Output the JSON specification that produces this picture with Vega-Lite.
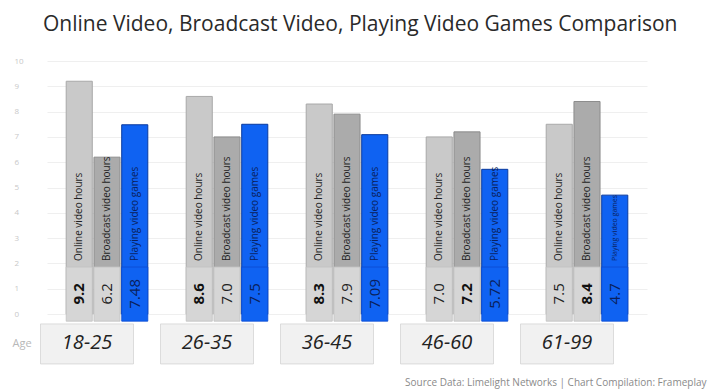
{
  "$schema": "https://vega.github.io/schema/vega-lite/v6.json",
  "width": 635,
  "height": 329,
  "autosize": "none",
  "padding": {"left": 40, "top": 61, "right": 33, "bottom": 2},
  "background": "white",
  "config": {
    "view": {"stroke": null},
    "font": "Open Sans",
    "axisY": {
      "ticks": false,
      "domain": false,
      "grid": true,
      "gridColor": "#efefef",
      "labelColor": "#c8c8c8",
      "labelFontSize": 8,
      "labelAlign": "left",
      "labelPadding": 26,
      "titleAngle": 0,
      "titleX": -28,
      "titleY": 282,
      "titleAlign": "left",
      "titleBaseline": "middle",
      "titleFontSize": 11,
      "titleFontWeight": "normal",
      "titleColor": "#b8b8b8"
    }
  },
  "title": {
    "text": "Online Video, Broadcast Video, Playing Video Games Comparison",
    "anchor": "start",
    "dx": 31,
    "offset": 22,
    "fontSize": 21,
    "fontWeight": "normal",
    "font": "Open Sans",
    "color": "#2a2a2a"
  },
  "data": {
    "values": [
      {"age": "18-25", "series": "Online video hours", "value": 9.2, "label": "9.2"},
      {"age": "18-25", "series": "Broadcast video hours", "value": 6.2, "label": "6.2"},
      {"age": "18-25", "series": "Playing video games", "value": 7.48, "label": "7.48"},
      {"age": "26-35", "series": "Online video hours", "value": 8.6, "label": "8.6"},
      {"age": "26-35", "series": "Broadcast video hours", "value": 7.0, "label": "7.0"},
      {"age": "26-35", "series": "Playing video games", "value": 7.5, "label": "7.5"},
      {"age": "36-45", "series": "Online video hours", "value": 8.3, "label": "8.3"},
      {"age": "36-45", "series": "Broadcast video hours", "value": 7.9, "label": "7.9"},
      {"age": "36-45", "series": "Playing video games", "value": 7.09, "label": "7.09"},
      {"age": "46-60", "series": "Online video hours", "value": 7.0, "label": "7.0"},
      {"age": "46-60", "series": "Broadcast video hours", "value": 7.2, "label": "7.2"},
      {"age": "46-60", "series": "Playing video games", "value": 5.72, "label": "5.72"},
      {"age": "61-99", "series": "Online video hours", "value": 7.5, "label": "7.5"},
      {"age": "61-99", "series": "Broadcast video hours", "value": 8.4, "label": "8.4"},
      {"age": "61-99", "series": "Playing video games", "value": 4.7, "label": "4.7"}
    ]
  },
  "encoding": {
    "x": {
      "field": "age",
      "type": "nominal",
      "sort": null,
      "scale": {"range": [7, 607], "paddingInner": 0.32, "paddingOuter": 0.16},
      "axis": {
        "labels": false,
        "ticks": false,
        "domain": false,
        "title": "Source Data: Limelight Networks | Chart Compilation: Frameplay",
        "titleAnchor": "end",
        "titleAlign": "right",
        "titleX": 666,
        "titleY": -8,
        "titleBaseline": "middle",
        "titleFontSize": 10,
        "titleFontWeight": "normal",
        "titleColor": "#8a8a8a"
      }
    }
  },
  "layer": [
    {
      "mark": {"type": "bar", "strokeWidth": 1},
      "encoding": {
        "xOffset": {"field": "series", "type": "nominal", "sort": ["Online video hours", "Broadcast video hours", "Playing video games"], "scale": {"paddingInner": 0.06, "paddingOuter": 0}},
        "y": {
          "field": "value",
          "type": "quantitative",
          "scale": {"domain": [-3, 10], "nice": false, "zero": false},
          "axis": {"values": [0, 1, 2, 3, 4, 5, 6, 7, 8, 9, 10], "title": "Age"}
        },
        "y2": {"datum": 0},
        "color": {
          "field": "series",
          "type": "nominal",
          "scale": {"domain": ["Online video hours", "Broadcast video hours", "Playing video games"], "range": ["#c9c9c9", "#ababab", "#0f62f2"]},
          "legend": null
        },
        "stroke": {
          "field": "series",
          "type": "nominal",
          "scale": {"domain": ["Online video hours", "Broadcast video hours", "Playing video games"], "range": ["#a9a9a9", "#8c8c8c", "#0a3a9e"]},
          "legend": null
        }
      }
    },
    {
      "mark": {"type": "bar", "strokeWidth": 0.8},
      "encoding": {
        "xOffset": {"field": "series", "type": "nominal", "sort": ["Online video hours", "Broadcast video hours", "Playing video games"]},
        "y": {"datum": -0.28, "type": "quantitative", "axis": {"values": [0, 1, 2, 3, 4, 5, 6, 7, 8, 9, 10], "title": "Age"}},
        "y2": {"datum": 1.86},
        "fill": {"condition": {"test": "datum.series == 'Playing video games'", "value": "#0f62f2"}, "value": "#d6d6d6"},
        "stroke": {"condition": {"test": "datum.series == 'Playing video games'", "value": "#0a4ad0"}, "value": "#c2c2c2"}
      }
    },
    {
      "transform": [
        {"joinaggregate": [{"op": "max", "field": "value", "as": "maxv"}], "groupby": ["age"]},
        {"filter": "datum.value == datum.maxv"}
      ],
      "mark": {"type": "text", "angle": 270, "fontSize": 15, "fontWeight": "bold", "align": "center", "baseline": "middle"},
      "encoding": {
        "xOffset": {"field": "series", "type": "nominal", "sort": ["Online video hours", "Broadcast video hours", "Playing video games"]},
        "y": {"datum": 0.8, "type": "quantitative", "axis": {"values": [0, 1, 2, 3, 4, 5, 6, 7, 8, 9, 10], "title": "Age"}},
        "text": {"field": "label"},
        "color": {"value": "#111111"}
      }
    },
    {
      "transform": [
        {"joinaggregate": [{"op": "max", "field": "value", "as": "maxv"}], "groupby": ["age"]},
        {"filter": "datum.value != datum.maxv"}
      ],
      "mark": {"type": "text", "angle": 270, "fontSize": 15, "fontWeight": "normal", "align": "center", "baseline": "middle"},
      "encoding": {
        "xOffset": {"field": "series", "type": "nominal", "sort": ["Online video hours", "Broadcast video hours", "Playing video games"]},
        "y": {"datum": 0.8, "type": "quantitative", "axis": {"values": [0, 1, 2, 3, 4, 5, 6, 7, 8, 9, 10], "title": "Age"}},
        "text": {"field": "label"},
        "color": {"condition": {"test": "datum.series == 'Playing video games'", "value": "#0a1f5c"}, "value": "#222222"}
      }
    },
    {
      "mark": {"type": "text", "angle": 270, "align": "left", "baseline": "middle", "fontSize": 10},
      "encoding": {
        "xOffset": {"field": "series", "type": "nominal", "sort": ["Online video hours", "Broadcast video hours", "Playing video games"]},
        "y": {"datum": 2.1, "type": "quantitative", "axis": {"values": [0, 1, 2, 3, 4, 5, 6, 7, 8, 9, 10], "title": "Age"}},
        "text": {"field": "series"},
        "size": {"condition": {"test": "datum.value < 5", "value": 7}, "value": 10},
        "color": {"condition": {"test": "datum.series == 'Playing video games'", "value": "#0a1f5c"}, "value": "#1e1e1e"}
      }
    },
    {
      "transform": [{"filter": "datum.series == 'Online video hours'"}],
      "mark": {"type": "bar", "width": 93, "xOffset": -20, "fill": "#f1f1f1", "stroke": "#d4d4d4", "strokeWidth": 0.8},
      "encoding": {
        "y": {"datum": -0.39, "type": "quantitative", "axis": {"values": [0, 1, 2, 3, 4, 5, 6, 7, 8, 9, 10], "title": "Age"}},
        "y2": {"datum": -1.97}
      }
    },
    {
      "transform": [{"filter": "datum.series == 'Online video hours'"}],
      "mark": {"type": "text", "xOffset": -20, "fontSize": 20, "fontStyle": "italic", "align": "center", "baseline": "middle", "color": "#222222"},
      "encoding": {
        "y": {"datum": -1.15, "type": "quantitative", "axis": {"values": [0, 1, 2, 3, 4, 5, 6, 7, 8, 9, 10], "title": "Age"}},
        "text": {"field": "age"}
      }
    }
  ]
}
